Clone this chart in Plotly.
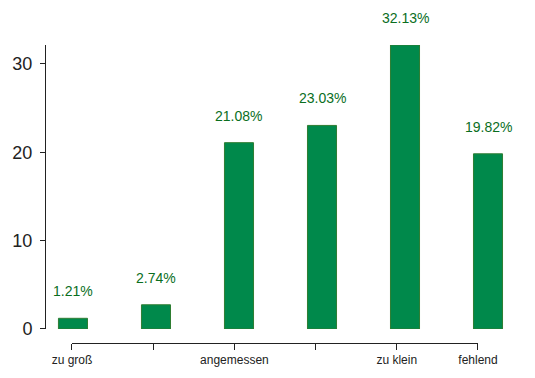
import plotly.graph_objects as go

categories = ["zu groß", "", "angemessen", "", "zu klein", "fehlend"]
values = [1.21, 2.74, 21.08, 23.03, 32.13, 19.82]
labels = ["1.21%", "2.74%", "21.08%", "23.03%", "32.13%", "19.82%"]
positions = [1, 2, 3, 4, 5, 6]
y_ticks = [0, 10, 20, 30]

GREEN_FILL = "#00894B"
GREEN_TEXT = "#0A6E1E"
FONT = "Liberation Sans, Arial, Helvetica, sans-serif"

fig = go.Figure()
fig.add_trace(go.Bar(
    x=positions, y=values, width=0.35,
    marker=dict(color=GREEN_FILL, line=dict(color="#2E7D32", width=1)),
    xaxis="x", yaxis="y", hoverinfo="skip",
))
# invisible trace to activate the lower category axis
fig.add_trace(go.Scatter(x=positions, y=[0] * 6, xaxis="x2", yaxis="y",
                         mode="markers", marker=dict(opacity=0), hoverinfo="skip"))

for p, v, t in zip(positions, values, labels):
    fig.add_annotation(x=p, y=v, xref="x", yref="y", text=t, showarrow=False,
                       yshift=27, font=dict(size=14, color=GREEN_TEXT, family=FONT))

fig.update_layout(
    width=535, height=378,
    margin=dict(l=38, r=32, t=37, b=43, autoexpand=False),
    plot_bgcolor="rgba(0,0,0,0)", paper_bgcolor="white",
    showlegend=False,
    font=dict(family=FONT, color="#222222"),
    xaxis=dict(domain=[0, 1], range=[0.675, 6.277], visible=False, anchor="y",
               automargin=False),
    yaxis=dict(domain=[0.047, 1], range=[0, max(values)], tickvals=y_ticks,
               ticks="outside", ticklen=5, tickwidth=1, tickcolor="#222222",
               ticklabelstandoff=4,
               showline=True, linecolor="#222222", linewidth=1,
               showgrid=False, zeroline=False, automargin=False,
               tickfont=dict(size=18, color="#222222", family=FONT)),
    xaxis2=dict(domain=[0.0559, 0.929], range=[1, 6], tickvals=positions,
                ticktext=categories, anchor="free", position=0,
                ticks="outside", ticklen=6, tickwidth=1, tickcolor="#222222",
                showline=True, linecolor="#222222", linewidth=1,
                showgrid=False, zeroline=False, automargin=False,
                tickfont=dict(size=12, color="#222222", family=FONT)),
)

fig.write_html("out.html")
